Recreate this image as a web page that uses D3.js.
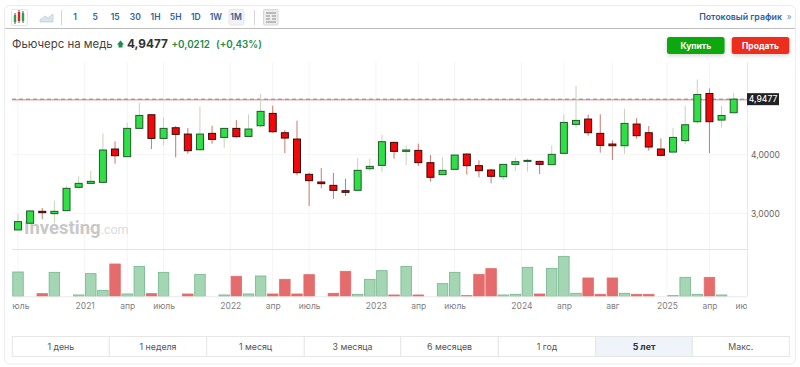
<!DOCTYPE html>
<html lang="ru">
<head>
    <meta charset="UTF-8">
    <title>Фьючерс на медь</title>
    <style>
        html, body { margin: 0; padding: 0; background: #fff; overflow: hidden; }
        svg { display: block; font-family: Inter, "Noto Sans", sans-serif; }
    </style>
</head>
<body>
<script src="https://d3js.org/d3.v7.min.js"></script>
<script>
    // Monthly candles
    const opens = [2.716, 2.83, 3.034, 2.994, 3.045, 3.443, 3.511, 3.528, 4.097, 3.966,
        4.449, 4.682, 4.278, 4.46, 4.352, 4.085, 4.364, 4.295, 4.449, 4.312,
        4.494, 4.705, 4.375, 4.267, 3.665, 3.534, 3.477, 3.386, 3.392, 3.761,
        3.818, 4.21, 4.057, 4.074, 3.864, 3.659, 3.75, 4.011, 3.813, 3.739,
        3.625, 3.835, 3.886, 3.886, 3.83, 4.023, 4.517, 4.608, 4.364, 4.182,
        4.153, 4.523, 4.375, 4.097, 4.045, 4.239, 4.563, 5.045, 4.591, 4.716];
    const closes = [2.858, 3.04, 3.011, 3.034, 3.426, 3.511, 3.545, 4.08, 3.983, 4.449,
        4.67, 4.278, 4.449, 4.347, 4.068, 4.352, 4.261, 4.449, 4.307, 4.438,
        4.739, 4.392, 4.284, 3.693, 3.557, 3.506, 3.392, 3.358, 3.733, 3.801,
        4.222, 4.057, 4.08, 3.864, 3.614, 3.733, 3.994, 3.813, 3.727, 3.631,
        3.835, 3.881, 3.903, 3.835, 4.006, 4.551, 4.585, 4.375, 4.159, 4.153,
        4.534, 4.324, 4.131, 3.989, 4.295, 4.511, 5.028, 4.563, 4.67, 4.9477];
    const highs = [2.983, 3.057, 3.091, 3.216, 3.472, 3.631, 3.722, 4.364, 4.227, 4.545,
        4.886, 4.682, 4.631, 4.489, 4.455, 4.818, 4.494, 4.449, 4.591, 4.688,
        5.034, 4.835, 4.42, 4.58, 3.693, 3.773, 3.688, 3.591, 3.943, 3.932,
        4.341, 4.222, 4.159, 4.188, 3.994, 3.955, 3.994, 4.023, 3.903, 3.761,
        3.835, 3.955, 3.938, 3.898, 4.159, 4.688, 5.176, 4.682, 4.688, 4.244,
        4.784, 4.625, 4.489, 4.278, 4.455, 4.835, 5.284, 5.131, 4.841, 5.051];
    const lows = [2.716, 2.83, 2.903, 2.83, 3.045, 3.443, 3.511, 3.528, 3.847, 3.966,
        4.449, 4.097, 4.159, 3.955, 4.017, 4.068, 4.188, 4.114, 4.29, 4.312,
        4.466, 4.375, 4.028, 3.648, 3.125, 3.426, 3.244, 3.295, 3.392, 3.727,
        3.699, 3.932, 3.824, 3.807, 3.54, 3.659, 3.75, 3.659, 3.614, 3.511,
        3.568, 3.722, 3.71, 3.67, 3.83, 4.023, 4.46, 4.324, 4.034, 3.909,
        4.017, 4.273, 4.068, 3.989, 4.045, 4.182, 4.517, 4.028, 4.46, 4.716];
    // Volume: relative size, sign gives the colour (+ green, - red)
    const volumes = [73, 0, -8, 72, 0, 4, 68, 18, -97, 7,
        90, -8, 72, 0, -7, 66, 0, 4, -60, 7,
        61, -7, -51, -7, -65, 0, -9, -75, 6, 51,
        77, -4, 90, -4, 0, 38, 72, -2, -66, -83,
        4, 6, 87, -7, 84, 120, 9, -55, -6, -55,
        9, -6, -6, 0, 2, 57, 6, -57, 4, 0];

    const lastPrice = 4.9477;
    const priceTicks = [3, 4];
    const tickIndex = [0, 5.5, 9, 12, 17.5, 21, 24, 29.5, 33, 36, 41.5, 45, 49, 53.5, 57, 60];
    const tickNames = ["июль", "2021", "апр", "июль", "2022", "апр", "июль", "2023", "апр", "июль", "2024", "апр", "авг", "2025", "апр", "июль"];
    const timeframes = ["1", "5", "15", "30", "1H", "5H", "1D", "1W", "1M"];
    const ranges = ["1 день", "1 неделя", "1 месяц", "3 месяца", "6 месяцев", "1 год", "5 лет", "Макс."];

    // Set Dimensions
    const width = 800;
    const height = 367;
    const plotLeft = 12;
    const plotRight = 747;
    const plotTop = 62;
    const volTop = 249;
    const volBottom = 296.3;

    const svg = d3.select("body")
        .append("svg")
        .attr("width", width)
        .attr("height", height);

    const defs = svg.append("defs");
    // first and last time labels are cut by the plot edges
    defs.append("clipPath").attr("id", "labels")
        .append("rect").attr("x", plotLeft).attr("y", 0).attr("width", plotRight - plotLeft).attr("height", 30);
    const shadow = defs.append("filter").attr("id", "soft").attr("x", "-20%").attr("y", "-40%").attr("width", "140%").attr("height", "200%");
    shadow.append("feDropShadow").attr("dx", 0).attr("dy", 1.5).attr("stdDeviation", 2).attr("flood-opacity", 0.18);

    // Card
    svg.append("rect")
        .attr("x", 4.5).attr("y", 5.5).attr("width", 791).attr("height", 358.5).attr("rx", 5)
        .attr("fill", "#fff").attr("stroke", "#ececec");
    svg.append("line")
        .attr("x1", 5).attr("x2", 795).attr("y1", 28.5).attr("y2", 28.5)
        .attr("stroke", "#bdbdbd");

    // Scales
    const x = d3.scaleLinear().domain([0, 59]).range([18, 733.7]);
    const y = d3.scaleLinear().domain([3, 4]).range([213.3, 154.7]);
    const v = d3.scaleLinear().domain([0, 142]).range([volBottom, volTop]);
    const comma = d => d3.format(".4f")(d).replace(".", ",");

    // Grid
    const grid = svg.append("g").attr("stroke", "#f4f4f4");
    grid.selectAll("line.v").data(tickIndex.slice(0, -1)).enter().append("line")
        .attr("x1", d => x(d)).attr("x2", d => x(d))
        .attr("y1", plotTop).attr("y2", volBottom);
    grid.selectAll("line.h").data(priceTicks).enter().append("line")
        .attr("x1", plotLeft).attr("x2", plotRight)
        .attr("y1", d => y(d)).attr("y2", d => y(d));
    svg.append("line")
        .attr("x1", plotLeft).attr("x2", plotRight).attr("y1", volTop + 0.5).attr("y2", volTop + 0.5)
        .attr("stroke", "#e2e2e2");
    svg.append("line")
        .attr("x1", plotRight + 0.5).attr("x2", plotRight + 0.5).attr("y1", plotTop).attr("y2", volBottom)
        .attr("stroke", "#e8e8e8");

    // Watermark
    const mark = svg.append("text").attr("x", 24).attr("y", 233.5)
        .attr("font-family", "Roboto, sans-serif").attr("font-size", 18.5);
    mark.append("tspan").attr("font-weight", 700).attr("fill", "#c8c8c8").text("Investing");
    mark.append("tspan").attr("fill", "#dcdcdc").attr("font-size", 12.5).text(".com");

    // Last price line
    svg.append("line")
        .attr("x1", plotLeft).attr("x2", plotRight).attr("y1", y(lastPrice) + 0.6).attr("y2", y(lastPrice) + 0.6)
        .attr("stroke", "#eeaaaa").attr("stroke-width", 1.5);
    svg.append("line")
        .attr("x1", plotLeft).attr("x2", plotRight).attr("y1", y(lastPrice)).attr("y2", y(lastPrice))
        .attr("stroke", "#888").attr("stroke-dasharray", "4,3");

    // Candles
    const candles = d3.range(opens.length);
    const isUp = i => closes[i] >= opens[i];
    svg.append("g").selectAll("line").data(candles).enter().append("line")
        .attr("x1", i => x(i)).attr("x2", i => x(i))
        .attr("y1", i => y(highs[i])).attr("y2", i => y(lows[i]))
        .attr("stroke", i => isUp(i) ? "#c4d4bd" : "#c9796c");
    svg.append("g").selectAll("rect").data(candles).enter().append("rect")
        .attr("x", i => x(i) - 3.5)
        .attr("y", i => y(Math.max(opens[i], closes[i])))
        .attr("width", 7)
        .attr("height", i => Math.max(1, Math.abs(y(opens[i]) - y(closes[i]))))
        .attr("fill", i => isUp(i) ? "#30de45" : "#f20808")
        .attr("stroke", i => isUp(i) ? "#1f5a2a" : "#3a0a0a");

    // Volume
    svg.append("g").selectAll("rect").data(candles.filter(i => volumes[i] !== 0)).enter().append("rect")
        .attr("x", i => x(i) - 5.25)
        .attr("y", i => v(Math.abs(volumes[i])))
        .attr("width", 10.5)
        .attr("height", i => volBottom - v(Math.abs(volumes[i])))
        .attr("fill", i => volumes[i] > 0 ? "#a4d6b4" : "#e56c6c")
        .attr("stroke", i => volumes[i] > 0 ? "#74b48c" : "#e56c6c")
        .attr("stroke-width", 0.8);
    svg.append("line")
        .attr("x1", plotLeft).attr("x2", plotRight).attr("y1", volBottom + 0.5).attr("y2", volBottom + 0.5)
        .attr("stroke", "#e8e8e8");

    // Time axis
    const timeAxis = svg.append("g")
        .attr("transform", `translate(0,${volBottom})`)
        .attr("clip-path", "url(#labels)")
        .call(d3.axisBottom(x).tickValues(tickIndex).tickFormat((d, i) => tickNames[i]).tickSize(0).tickPadding(7));
    timeAxis.select(".domain").remove();
    timeAxis.selectAll("text").attr("font-family", "Inter, sans-serif").attr("font-size", 8.5).attr("fill", "#808080");

    // Price axis
    const priceAxis = svg.append("g")
        .attr("transform", `translate(${plotRight},0)`)
        .call(d3.axisRight(y).tickValues(priceTicks).tickFormat(comma).tickSize(0).tickPadding(4));
    priceAxis.select(".domain").remove();
    priceAxis.selectAll("text").attr("font-family", "Inter, sans-serif").attr("font-size", 8.5).attr("fill", "#666");

    svg.append("rect")
        .attr("x", plotRight).attr("y", y(lastPrice) - 6).attr("width", 32).attr("height", 12).attr("fill", "#222");
    svg.append("text")
        .attr("x", plotRight + 16).attr("y", y(lastPrice) + 3).attr("text-anchor", "middle")
        .attr("font-size", 8.5).attr("font-weight", 500).attr("fill", "#fff").text(comma(lastPrice));

    // Toolbar
    const tfX = d3.scalePoint().domain(timeframes).range([75, 236]);
    svg.append("rect").attr("x", 11.5).attr("y", 9.5).attr("width", 16).attr("height", 16).attr("rx", 2)
        .attr("fill", "#fff").attr("stroke", "#e4e4e4");
    const icon = svg.append("g");
    [[15, "#2e9e4a", 15, 22], [19, "#d22", 12, 21], [23, "#2e9e4a", 13, 21]].forEach(c => {
        icon.append("line").attr("x1", c[0]).attr("x2", c[0]).attr("y1", c[2] - 2).attr("y2", c[3] + 2).attr("stroke", "#555");
        icon.append("rect").attr("x", c[0] - 1.2).attr("y", c[2]).attr("width", 2.4).attr("height", c[3] - c[2]).attr("fill", c[1]);
    });
    svg.append("path").attr("d", "M40 22 L40 20 L45 16 L48 18 L53 14 L53 22 Z")
        .attr("fill", "#dbe5ef").attr("stroke", "#b8c8d8").attr("stroke-width", 0.7);
    [61.5, 254.5].forEach(d => svg.append("line").attr("x1", d).attr("x2", d).attr("y1", 10).attr("y2", 25).attr("stroke", "#d4d4d4"));
    svg.append("rect").attr("x", 229).attr("y", 9.5).attr("width", 15).attr("height", 15.5).attr("rx", 2)
        .attr("fill", "#f0f2f5").attr("stroke", "#e6e6e6");
    svg.selectAll("text.tf").data(timeframes).enter().append("text")
        .attr("x", d => tfX(d)).attr("y", 20.3).attr("text-anchor", "middle")
        .attr("font-size", 8.5).attr("font-weight", 600).attr("fill", "#2f5f97").text(d => d);
    svg.append("rect").attr("x", 263.5).attr("y", 9.5).attr("width", 14.5).attr("height", 15.5).attr("rx", 1)
        .attr("fill", "#ececec").attr("stroke", "#d8d8d8");
    svg.append("path").attr("d", "M266 13 H276 M266 16 H270 M272 16 H276 M266 19 H270 M272 19 H276 M266 22 H276")
        .attr("stroke", "#8a8a8a").attr("stroke-width", 1.2);
    svg.append("text").attr("x", 782).attr("y", 20).attr("text-anchor", "end")
        .attr("font-size", 8.8).attr("font-weight", 600).attr("fill", "#2f5f97").text("Потоковый график");
    svg.append("text").attr("x", 789).attr("y", 20).attr("text-anchor", "middle")
        .attr("font-size", 9).attr("fill", "#7f9cc0").text("»");

    // Title row
    svg.append("text").attr("x", 12).attr("y", 47.5)
        .attr("font-size", 11.4).attr("fill", "#444").text("Фьючерс на медь");
    svg.append("path").attr("d", "M120.5 40.5 L124 44.5 L122.5 44.5 L122.5 47.5 L118.5 47.5 L118.5 44.5 L117 44.5 Z").attr("fill", "#1b8a4b");
    svg.append("text").attr("x", 127).attr("y", 48)
        .attr("font-size", 11.8).attr("font-weight", 700).attr("fill", "#333").text("4,9477");
    svg.append("text").attr("x", 171.5).attr("y", 47.5)
        .attr("font-size", 9.8).attr("font-weight", 600).attr("fill", "#1b8a4b").text("+0,0212");
    svg.append("text").attr("x", 216).attr("y", 47.5)
        .attr("font-size", 9.8).attr("font-weight", 600).attr("fill", "#1b8a4b").text("(+0,43%)");

    // Buy and sell
    [["Купить", 667, "#0ca80f"], ["Продать", 731.7, "#ee2d1f"]].forEach(b => {
        svg.append("rect").attr("x", b[1]).attr("y", 37).attr("width", 57.6).attr("height", 17).attr("rx", 2.5)
            .attr("fill", b[2]).attr("filter", "url(#soft)");
        svg.append("text").attr("x", b[1] + 28.8).attr("y", 48.8).attr("text-anchor", "middle")
            .attr("font-size", 8.5).attr("font-weight", 700).attr("fill", "#fff").text(b[0]);
    });

    // Range buttons
    const rangeEdges = [12.3, 109.3, 206.7, 304.3, 400.7, 498.3, 595.7, 692.3, 789.3];
    const rangeRow = svg.append("g");
    ranges.forEach((d, i) => {
        const active = d === "5 лет";
        rangeRow.append("rect")
            .attr("x", rangeEdges[i]).attr("y", 336.5)
            .attr("width", rangeEdges[i + 1] - rangeEdges[i]).attr("height", 20)
            .attr("fill", active ? "#eef4fa" : "#fff").attr("stroke", "#e6e6e6");
        rangeRow.append("text")
            .attr("x", (rangeEdges[i] + rangeEdges[i + 1]) / 2).attr("y", 350).attr("text-anchor", "middle")
            .attr("font-size", 8.8).attr("font-weight", active ? 700 : 400).attr("fill", active ? "#333" : "#555").text(d);
    });
</script>
</body>
</html>
